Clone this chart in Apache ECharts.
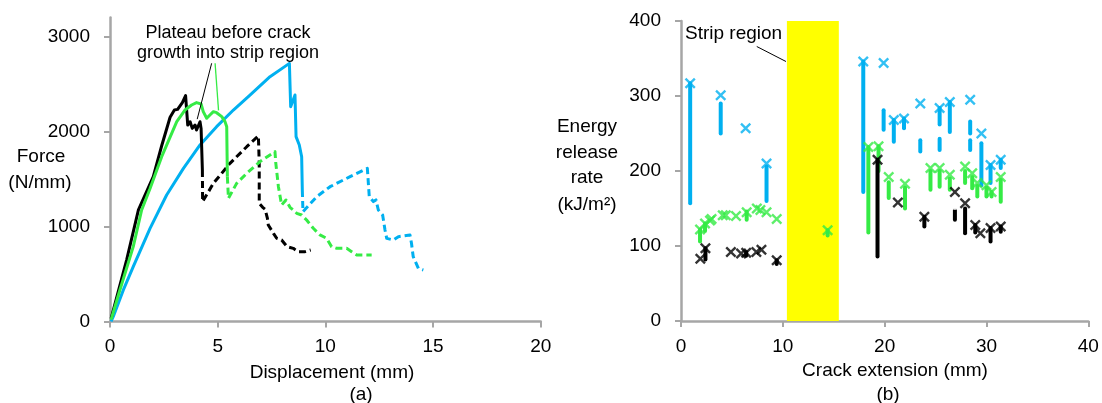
<!DOCTYPE html>
<html><head><meta charset="utf-8">
<script src="https://cdn.jsdelivr.net/npm/echarts@6/dist/echarts.min.js"></script>
<style>html,body{margin:0;padding:0;background:#fff}#c{width:1102px;height:403px}</style>
</head><body><div id="c"></div>
<script>
// ---------- (a) Force vs displacement ----------
const forceTicks = [0, 1000, 2000, 3000];
const dispTicks = [0, 5, 10, 15, 20];
const blackSolid = [[0.05,30],[0.77,647],[1.32,1174],[2.01,1525],[2.40,1850],[2.79,2150],[2.99,2226],[3.14,2233],[3.36,2304],[3.51,2377],[3.61,2068],[3.72,2103],[3.82,2033],[3.95,2068],[4.02,2016],[4.18,2103],[4.23,2033],[4.29,1595]];
const blackDashed = [[4.29,1595],[4.30,1261],[4.80,1454],[5.57,1665],[6.35,1840],[6.89,1953],[6.93,1665],[6.93,1244],[7.09,1202],[7.20,1181],[7.31,1086],[7.35,1016],[7.59,928],[7.74,876],[7.97,858],[8.22,788],[8.51,770],[8.74,735],[9.06,735],[9.32,753]];
const greenSolid = [[0.05,20],[0.46,332],[1.08,788],[1.47,1174],[1.86,1400],[2.40,1735],[3.10,2104],[3.48,2226],[3.79,2279],[4.02,2304],[4.23,2290],[4.33,2209],[4.49,2139],[4.64,2174],[4.80,2209],[4.95,2198],[5.19,2156],[5.34,2104],[5.42,2051],[5.45,1525]];
const greenDashed = [[5.45,1525],[5.50,1297],[5.88,1454],[6.35,1560],[6.97,1683],[7.66,1788],[7.70,1665],[7.82,1419],[7.97,1226],[8.17,1279],[8.36,1202],[8.51,1174],[8.67,1139],[8.90,1121],[9.13,1068],[9.44,981],[9.75,911],[10.06,876],[10.29,788],[10.53,770],[10.99,770],[11.22,735],[11.46,700],[11.76,700],[12.15,700]];
const blueSolid = [[0.05,0],[0.15,51],[0.62,332],[1.08,577],[1.86,981],[2.63,1332],[3.41,1612],[4.18,1858],[4.95,2051],[5.73,2226],[6.50,2384],[7.43,2577],[8.33,2717],[8.39,2261],[8.59,2384],[8.64,1946],[8.79,1858],[8.90,1735],[8.93,1384]];
const blueDashed = [[8.93,1384],[8.96,1156],[9.60,1314],[10.22,1419],[11.15,1525],[11.95,1612],[12.04,1314],[12.23,1262],[12.35,1280],[12.46,1174],[12.66,1121],[12.77,963],[12.85,875],[13.16,858],[13.39,893],[13.93,910],[14.00,823],[14.08,682],[14.32,560],[14.55,542]];
const plateauLeaderBlack = [[4.72,2718],[4.05,2130]];
const plateauLeaderGreen = [[4.88,2718],[5.04,2222]];

// ---------- (b) Energy release rate vs crack extension ----------
const gTicks = [0, 100, 200, 300, 400];
const crackTicks = [0, 10, 20, 30, 40];
const stripRegion = [10.4, 15.5];
const stripLeader = [[7.44,366],[10.31,346]];
// crosses [x, G]
const blueCross = [[0.9,317],[3.9,301],[6.35,257],[8.4,210],[17.9,346],[19.9,344],[20.9,268],[21.9,270],[23.5,290],[25.4,284],[26.4,292],[28.4,295],[29.5,250],[30.4,208],[31.4,215]];
const greenCross = [[1.87,122],[2.36,130],[2.85,134],[3.0,136],[4.1,141],[4.4,141],[5.4,140],[6.45,145],[7.45,150],[7.8,148],[8.4,145],[9.4,136],[14.4,121],[18.4,232],[19.4,233],[20.4,192],[22.0,183],[24.5,204],[25.4,204],[26.4,195],[27.9,206],[28.6,197],[29.1,184],[30.0,181],[30.5,172],[31.4,192]];
const blackCross = [[1.9,83],[2.4,97],[4.9,92],[5.9,90],[6.4,91],[7.4,92],[7.9,95],[9.4,81],[19.3,215],[21.3,158],[23.9,139],[26.9,172],[27.9,157],[28.9,128],[29.4,117],[30.4,124],[31.4,126]];
// dense runs of data points [x, Gtop, Gbottom]
const blueRuns = [[0.9,317,157],[3.9,290,250],[8.4,206,160],[17.9,346,172],[19.9,281,255],[20.9,268,239],[21.9,270,257],[23.5,241,226],[25.4,284,262],[25.4,243,228],[26.4,292,252],[28.4,266,250],[28.4,241,228],[29.5,237,181],[30.4,208,184],[31.4,215,204]];
const greenRuns = [[1.87,122,106],[2.36,130,120],[6.45,146,135],[14.4,121,114],[18.4,232,118],[19.4,233,200],[20.4,185,164],[22.0,178,150],[24.5,200,175],[25.4,200,179],[26.4,190,175],[27.9,200,184],[28.6,192,177],[29.1,180,166],[30.0,178,166],[30.5,172,166],[31.4,188,159]];
const blackRuns = [[2.4,97,82],[6.4,92,87],[9.4,81,76],[19.3,215,86],[23.9,139,126],[26.9,148,135],[27.9,150,117],[28.9,128,118],[30.4,124,106],[31.4,126,119]];
// sparse single data points [x, G]
const blueDots = [[6.35,243],[6.35,238],[6.35,233],[6.35,228],[6.35,222],[6.35,216],[6.35,211],[6.35,208],[19.9,328],[19.9,308],[19.9,299],[19.9,295],[19.9,290],[23.5,281],[23.5,259],[23.5,252],[25.4,255],[25.4,250],[26.4,236]];
const greenDots = [[9.4,128],[9.4,124],[9.4,120],[9.4,116],[9.4,112]];
const blackDots = [[21.3,152],[21.3,146],[21.3,140],[21.3,134],[21.3,128],[21.3,122],[21.3,118],[21.3,114],[21.3,112],[26.9,157],[26.9,152]];

const BLUE = '#00B0F0', GREEN = '#35EB45', BLACK = '#000000', YELLOW = '#FFFF00';
const AXIS = '#A6A6A6';
const FONT = 'Liberation Sans';
const crossPath = 'path://M1.5,0L5,3.5L8.5,0L10,1.5L6.5,5L10,8.5L8.5,10L5,6.5L1.5,10L0,8.5L3.5,5L0,1.5Z';

const chart = echarts.init(document.getElementById('c'), null, {renderer: 'canvas'});

function axisCfg(type, grid, min, max, interval, ticks, margin) {
  return {
    type: type, gridIndex: grid, min: min, max: max, interval: interval,
    axisLine: {show: true, onZero: false, lineStyle: {color: AXIS, width: 2.5}},
    axisTick: {show: true, length: 6, lineStyle: {color: AXIS, width: 2}, customValues: ticks},
    axisLabel: {color: '#000', fontFamily: FONT, fontSize: 19, margin: margin, customValues: ticks,
      formatter: function (v) { return String(v); }},
    splitLine: {show: false}
  };
}

function runRenderer(color) {
  return function (params, api) {
    const p1 = api.coord([api.value(0), api.value(1)]);
    const p2 = api.coord([api.value(0), api.value(2)]);
    return {type: 'line', shape: {x1: p1[0], y1: p1[1], x2: p2[0], y2: p2[1]},
      style: {stroke: color, lineWidth: 4, lineCap: 'round'}};
  };
}

function lineSeries(data, color, dashed, z) {
  return {type: 'line', xAxisIndex: 0, yAxisIndex: 0, data: data, symbol: 'none', z: z || 3,
    lineStyle: {color: color, width: 3, type: dashed ? [7, 4] : 'solid', cap: 'butt', join: 'round'},
    animation: false};
}

const textStyle = {fill: '#000', fontFamily: FONT, fontSize: 19, textAlign: 'center', textVerticalAlign: 'middle'};
function txt(s, x, y, extra) {
  return {type: 'text', x: x, y: y, style: Object.assign({text: s}, textStyle, extra || {}), z: 100};
}

chart.setOption({
  animation: false,
  backgroundColor: '#fff',
  grid: [
    {left: 110, top: 17.5, width: 430.7, height: 304},
    {left: 681, top: 21, width: 407.3, height: 300}
  ],
  xAxis: [
    axisCfg('value', 0, 0, 20, 5, dispTicks, 16),
    axisCfg('value', 1, 0, 40, 10, crackTicks, 16)
  ],
  yAxis: [
    axisCfg('value', 0, 0, 3200, 1000, forceTicks, 20),
    axisCfg('value', 1, 0, 400, 100, gTicks, 20)
  ],
  series: [
    lineSeries(blackSolid, BLACK, false),
    lineSeries(blackDashed, BLACK, true),
    lineSeries(greenSolid, GREEN, false),
    lineSeries(greenDashed, GREEN, true),
    lineSeries(blueSolid, BLUE, false, 2),
    lineSeries(blueDashed, BLUE, true, 2),
    {type: 'line', xAxisIndex: 0, yAxisIndex: 0, data: [], symbol: 'none', z: 10,
      markLine: {silent: true, symbol: 'none', animation: false, label: {show: false},
        data: [
          [{coord: plateauLeaderBlack[0], lineStyle: {color: BLACK, width: 1, type: 'solid'}}, {coord: plateauLeaderBlack[1]}],
          [{coord: plateauLeaderGreen[0], lineStyle: {color: GREEN, width: 1.3, type: 'solid'}}, {coord: plateauLeaderGreen[1]}]
        ]}},
    {type: 'line', xAxisIndex: 1, yAxisIndex: 1, data: [], symbol: 'none', z: 1,
      markArea: {silent: true, itemStyle: {color: YELLOW, opacity: 1}, data: [[{xAxis: stripRegion[0]}, {xAxis: stripRegion[1]}]]},
      markLine: {silent: true, symbol: 'none', animation: false, label: {show: false},
        data: [[{coord: stripLeader[0], lineStyle: {color: BLACK, width: 1, type: 'solid'}}, {coord: stripLeader[1]}]]}},
    {type: 'custom', xAxisIndex: 1, yAxisIndex: 1, data: blueRuns, renderItem: runRenderer(BLUE), encode: {x: 0, y: [1, 2]}, z: 3},
    {type: 'custom', xAxisIndex: 1, yAxisIndex: 1, data: greenRuns, renderItem: runRenderer(GREEN), encode: {x: 0, y: [1, 2]}, z: 4},
    {type: 'custom', xAxisIndex: 1, yAxisIndex: 1, data: blackRuns, renderItem: runRenderer(BLACK), encode: {x: 0, y: [1, 2]}, z: 5},
    {type: 'scatter', xAxisIndex: 1, yAxisIndex: 1, data: blueDots, symbol: 'emptyCircle', symbolSize: 4, itemStyle: {color: '#fff', borderColor: BLUE, borderWidth: 1.2}, z: 3},
    {type: 'scatter', xAxisIndex: 1, yAxisIndex: 1, data: greenDots, symbol: 'emptyCircle', symbolSize: 4, itemStyle: {color: '#fff', borderColor: GREEN, borderWidth: 1.2}, z: 4},
    {type: 'scatter', xAxisIndex: 1, yAxisIndex: 1, data: blackDots, symbol: 'emptyCircle', symbolSize: 4, itemStyle: {color: '#fff', borderColor: BLACK, borderWidth: 1.2}, z: 5},
    {type: 'scatter', xAxisIndex: 1, yAxisIndex: 1, data: blueCross, symbol: crossPath, symbolSize: 11, itemStyle: {color: BLUE}, z: 6},
    {type: 'scatter', xAxisIndex: 1, yAxisIndex: 1, data: greenCross, symbol: crossPath, symbolSize: 11, itemStyle: {color: GREEN}, z: 7},
    {type: 'scatter', xAxisIndex: 1, yAxisIndex: 1, data: blackCross, symbol: crossPath, symbolSize: 11, itemStyle: {color: BLACK}, z: 8}
  ],
  graphic: [
    txt('Force', 41, 157),
    txt('(N/mm)', 40, 183),
    txt('Displacement (mm)', 332, 373),
    txt('(a)', 361, 395),
    txt('Plateau before crack', 228, 33, {fontSize: 18}),
    txt('growth into strip region', 228, 53, {fontSize: 18}),
    txt('Energy', 587, 127),
    txt('release', 587, 153),
    txt('rate', 587, 178),
    txt('(kJ/m²)', 587, 205),
    txt('Crack extension (mm)', 895, 371),
    txt('(b)', 888, 395),
    txt('Strip region', 685, 34, {textAlign: 'left'})
  ]
});
</script>
</body></html>
